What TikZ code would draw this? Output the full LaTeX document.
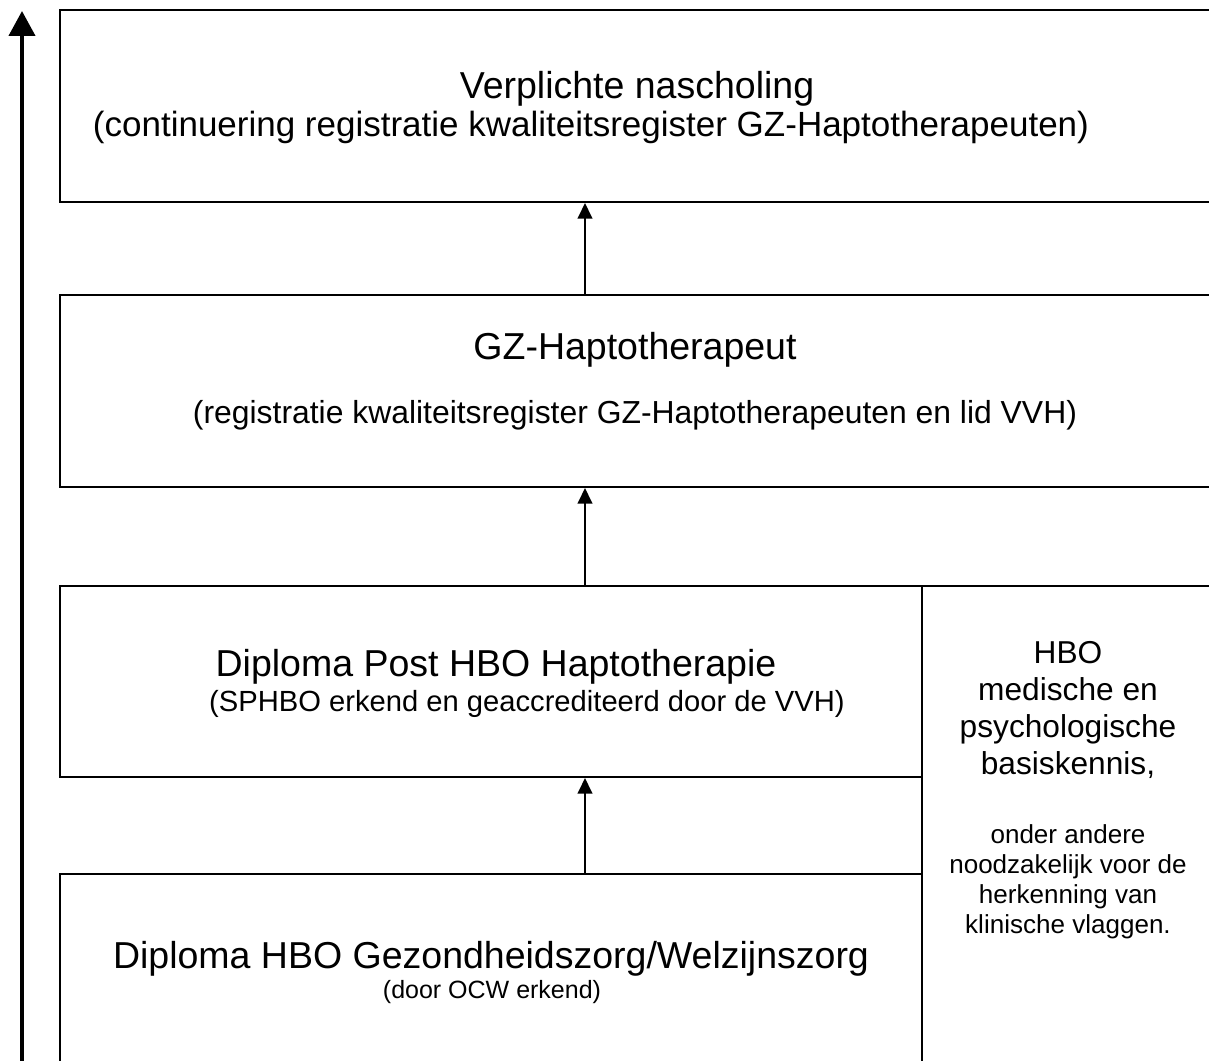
\documentclass[tikz,border=0pt]{standalone}
\usepackage{fontspec}
\setmainfont{Liberation Sans}
\usetikzlibrary{arrows.meta}

\tikzset{every picture/.style={line width=0.96pt}}
\tikzset{
  vak/.style={draw, rectangle, inner sep=0pt},
  kop/.style={anchor=base, inner sep=0pt, font=\fontsize{18}{21.6}\selectfont},
  onderkop/.style={anchor=base, inner sep=0pt, font=\fontsize{16}{19.2}\selectfont},
  kleinkop/.style={anchor=base, inner sep=0pt, font=\fontsize{14}{16.8}\selectfont},
  stap/.style={-{Triangle[width=7pt,length=7.5pt]}},
}

\begin{document}
\begin{tikzpicture}[x=0.48pt,y=0.48pt,yscale=-1,xscale=1]
	\useasboundingbox (0,0) rectangle (1209,1061);

	% Boxes
	\node[vak, minimum width={1160*0.48pt}, minimum height={192*0.48pt}] (nascholing) at (640,106) {};
	\node[vak, minimum width={1160*0.48pt}, minimum height={192*0.48pt}] (gzhapto) at (640,391) {};
	\node[vak, minimum width={862*0.48pt}, minimum height={191*0.48pt}] (posthbo) at (491,681.5) {};
	\node[vak, minimum width={862*0.48pt}, minimum height={206*0.48pt}] (hbodiploma) at (491,977) {};
	\node[vak, minimum width={298*0.48pt}, minimum height={494*0.48pt}] (basiskennis) at (1071,833) {};

	% Arrows between boxes
	\coordinate (pijlx) at (585,0);
	\draw[stap] (pijlx |- gzhapto.north) -- (pijlx |- nascholing.south);
	\draw[stap] (pijlx |- posthbo.north) -- (pijlx |- gzhapto.south);
	\draw[stap] (pijlx |- hbodiploma.north) -- (pijlx |- posthbo.south);

	% Left axis arrow
	\coordinate (asonder) at (22,1075);
	\coordinate (asboven) at (22,11);
	\draw[line width=1.9pt, -{Triangle[width=12.5pt,length=12pt]}] (asonder) -- (asboven);

	% Text Node
	\node[kop] (t1) at (637,99) {Verplichte nascholing};
	\node[onderkop, font=\fontsize{16.8}{20}\selectfont] (s1) at (591,137) {(continuering registratie kwaliteitsregister GZ-Haptotherapeuten)};
	% Text Node
	\node[kop] (t2) at (635,360) {GZ-Haptotherapeut};
	\node[onderkop, font=\fontsize{15.3}{18.4}\selectfont] (s2) at (635,424) {(registratie kwaliteitsregister GZ-Haptotherapeuten en lid VVH)};
	% Text Node
	\node[kop] (t3) at (496,677) {Diploma Post HBO Haptotherapie};
	\node[kleinkop] (s3) at (527,712) {(SPHBO erkend en geaccrediteerd door de VVH)};
	% Text Node
	\node[kop] (t4) at (491,968) {Diploma HBO Gezondheidszorg/Welzijnszorg};
	\node[anchor=base, inner sep=0pt, font=\fontsize{12}{14.4}\selectfont] (s4) at (492,998) {(door OCW erkend)};
	% Text Node
	\node[anchor=north, inner sep=0pt, align=center, font=\fontsize{15.2}{17.8}\selectfont] (medisch) at (1068,640) {HBO\\medische en\\psychologische\\basiskennis,};
	\node[anchor=north, inner sep=0pt, align=center, font=\fontsize{12.5}{14.4}\selectfont] (vlaggen) at (1068,824) {onder andere\\noodzakelijk voor de\\herkenning van\\klinische vlaggen.};

\end{tikzpicture}
\end{document}
